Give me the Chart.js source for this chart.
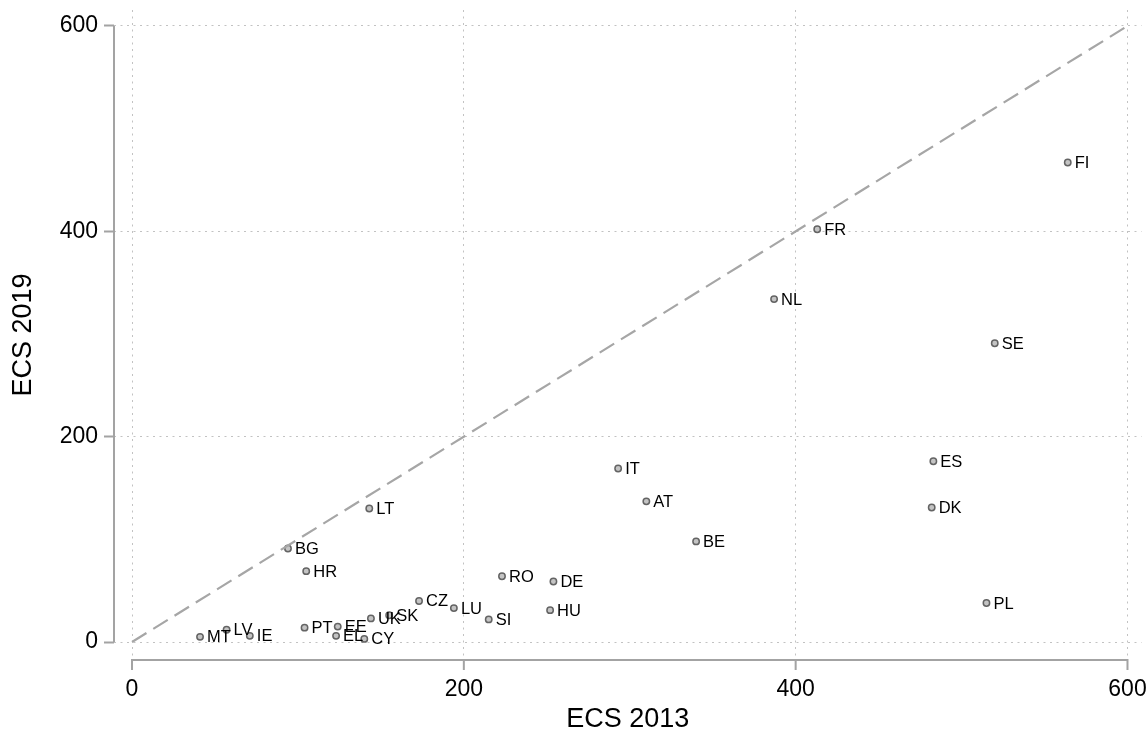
<!DOCTYPE html>
<html>
<head>
<meta charset="utf-8">
<title>ECS 2013 vs ECS 2019</title>
<script src="https://cdn.jsdelivr.net/npm/chart.js@4/dist/chart.umd.min.js"></script>
<style>
  html, body { margin: 0; padding: 0; background: #ffffff; }
  #wrap { width: 1147px; height: 736px; }
</style>
</head>
<body>
<div id="wrap"><canvas id="chart" width="1147" height="736"></canvas></div>
<script>
// Country codes and their values in the two survey waves
const countries = ['FI','FR','NL','SE','ES','DK','PL','IT','AT','BE','LT','BG','HR','RO',
                   'DE','HU','CZ','LU','SI','UK','SK','PT','EE','EL','CY','MT','LV','IE'];
const ecs2013 = [564, 413, 387, 520, 483, 482, 515, 293, 310, 340, 143, 94, 105, 223,
                 254, 252, 173, 194, 215, 144, 155, 104, 124, 123, 140, 41, 57, 71];
const ecs2019 = [467, 402, 334, 291, 176, 131, 38, 169, 137, 98, 130, 91, 69, 64,
                 59, 31, 40, 33, 22, 23, 26, 14, 15, 6, 3, 5, 12, 6];

// Axis ticks and the 45-degree reference line endpoints
const tickValues = [0, 200, 400, 600];
const diagonal = [0, 600];

const FONT = "'Liberation Sans', Arial, sans-serif";
const AXIS_GREY = '#a3a3a3';
const X_TICK_LEN = 10;

const points = countries.map((c, i) => ({ x: ecs2013[i], y: ecs2019[i] }));
const diagPoints = diagonal.map(v => ({ x: v, y: v }));

// Solid axis lines spanning only the tick range, plus the x-axis tick marks
const axisLines = {
  id: 'axisLines',
  beforeDatasetsDraw(chart) {
    const { ctx, scales: { x, y }, chartArea } = chart;
    const first = tickValues[0], last = tickValues[tickValues.length - 1];
    ctx.save();
    ctx.strokeStyle = AXIS_GREY;
    ctx.lineWidth = 2;
    ctx.beginPath();
    ctx.moveTo(chartArea.left, y.getPixelForValue(first));
    ctx.lineTo(chartArea.left, y.getPixelForValue(last));
    ctx.moveTo(x.getPixelForValue(first) - 1, chartArea.bottom);
    ctx.lineTo(x.getPixelForValue(last) + 1, chartArea.bottom);
    tickValues.forEach(v => {
      const px = x.getPixelForValue(v);
      ctx.moveTo(px, chartArea.bottom);
      ctx.lineTo(px, chartArea.bottom + X_TICK_LEN);
    });
    ctx.stroke();
    ctx.restore();
  }
};

// Country code written to the right of each marker
const pointLabels = {
  id: 'pointLabels',
  afterDatasetsDraw(chart) {
    const { ctx } = chart;
    const meta = chart.getDatasetMeta(1);
    ctx.save();
    ctx.font = '16.5px ' + FONT;
    ctx.fillStyle = '#000000';
    ctx.textAlign = 'left';
    ctx.textBaseline = 'middle';
    meta.data.forEach((el, i) => {
      ctx.fillText(countries[i], el.x + 7, el.y + 1);
    });
    ctx.restore();
  }
};

const whiteBg = {
  id: 'whiteBg',
  beforeDraw(chart) {
    const { ctx, width, height } = chart;
    ctx.save();
    ctx.fillStyle = '#ffffff';
    ctx.fillRect(0, 0, width, height);
    ctx.restore();
  }
};

const fixedTicks = scale => { scale.ticks = tickValues.map(v => ({ value: v })); };

new Chart(document.getElementById('chart'), {
  data: {
    datasets: [
      {
        type: 'line',
        data: diagPoints,
        borderColor: '#a6a6a6',
        borderWidth: 2.2,
        borderDash: [17, 8],
        pointRadius: 0,
        fill: false,
        tension: 0
      },
      {
        type: 'scatter',
        data: points,
        pointRadius: 3.2,
        pointBorderWidth: 1.5,
        pointBackgroundColor: '#c4c4c4',
        pointBorderColor: '#646464'
      }
    ]
  },
  options: {
    responsive: false,
    devicePixelRatio: 1,
    animation: false,
    layout: { padding: { top: 10, right: 0, left: 0, bottom: 0 } },
    plugins: { legend: { display: false }, tooltip: { enabled: false } },
    scales: {
      x: {
        type: 'linear',
        bounds: 'data',
        min: -10.854,
        max: 608.45,
        afterBuildTicks: fixedTicks,
        afterFit: s => { s.height = 76; s.paddingLeft = 0; s.paddingRight = 0; },
        ticks: { font: { family: FONT, size: 23 }, color: '#000000', padding: 0, maxRotation: 0, autoSkip: false },
        grid: { color: '#c2c2c2', lineWidth: 1, tickColor: 'rgba(0,0,0,0)', tickWidth: 0, tickLength: 16 },
        border: { display: false, dash: [2, 4.5] },
        title: { display: true, text: 'ECS 2013', color: '#000000', font: { family: FONT, size: 27 }, padding: { top: 0, bottom: 0 } }
      },
      y: {
        type: 'linear',
        bounds: 'data',
        min: -17.532,
        max: 615.58,
        afterBuildTicks: fixedTicks,
        afterFit: s => { s.width = 114; s.paddingTop = 0; s.paddingBottom = 0; },
        ticks: { font: { family: FONT, size: 23 }, color: '#000000', padding: 6, autoSkip: false },
        grid: { color: '#c2c2c2', lineWidth: 1, tickColor: AXIS_GREY, tickWidth: 2, tickLength: 10 },
        border: { display: false, dash: [2, 4.5] },
        title: { display: true, text: 'ECS 2019', color: '#000000', font: { family: FONT, size: 27 }, padding: { top: 7, bottom: 0 } }
      }
    }
  },
  plugins: [whiteBg, axisLines, pointLabels]
});
</script>
</body>
</html>
